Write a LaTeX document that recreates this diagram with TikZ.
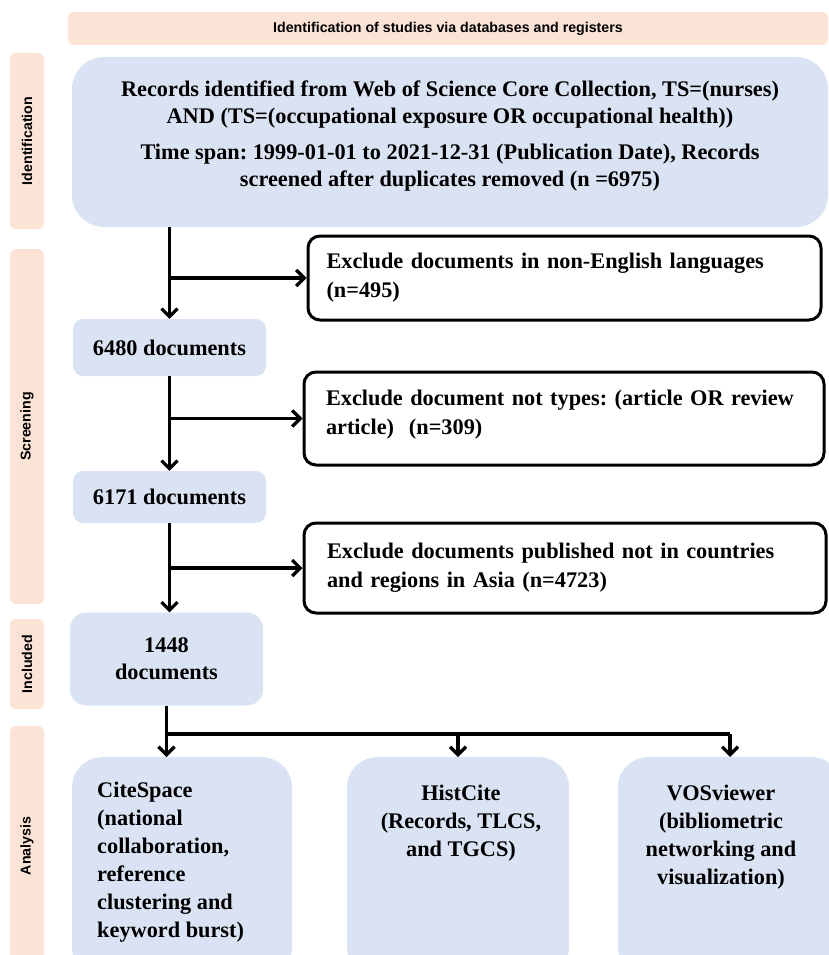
\documentclass[tikz,border=0pt]{standalone}
\usepackage{fontspec}
\setmainfont{Liberation Serif}
\setsansfont{Liberation Sans}
\usetikzlibrary{positioning,arrows.meta,calc}
\definecolor{paleblue}{RGB}{218,227,243}
\definecolor{peach}{RGB}{251,228,214}

\begin{document}
\frenchspacing
\begin{tikzpicture}[x=1pt,y=-1pt,
    sidebar/.style={fill=peach,rounded corners=6pt,rotate=90,minimum height=34pt,inner sep=0pt,
      font=\sffamily\bfseries\fontsize{14.2}{16}\selectfont},
    bluebox/.style={fill=paleblue,rounded corners=10pt,inner sep=0pt,
      font=\bfseries\fontsize{22.3}{27}\selectfont,align=center},
    excbox/.style={draw=black,line width=3pt,rounded corners=12pt,fill=white,inner sep=0pt,
      font=\bfseries\fontsize{22.3}{29}\selectfont,align=left,text width=476pt},
    toolbox/.style={fill=paleblue,rounded corners=30pt,inner sep=0pt},
    tooltext/.style={inner sep=0pt,font=\bfseries\fontsize{22.3}{28}\selectfont,anchor=north},
    flow/.style={line width=3.2pt,-{Straight Barb[length=8pt,width=16pt]}}]
        \useasboundingbox (0,0) rectangle (829,955);
        \clip (0,0) rectangle (829,955);
        % header and stage bars
        \node[fill=peach,rounded corners=6pt,minimum width=760pt,minimum height=33pt,
          font=\sffamily\bfseries\fontsize{14.2}{16}\selectfont] (head) at (448,28.5)
          {Identification of studies via databases and registers};
        \node[sidebar,minimum width=176pt] (identbar) at (27,141) {Identification};
        \node[sidebar,minimum width=355pt] (screenbar) at (27,426.5) {Screening};
        \node[sidebar,minimum width=90pt] (inclbar) at (27,664) {Included};
        \node[sidebar,minimum width=240pt] (anabar) at (27,846) {Analysis};
        % main column
        \node[bluebox,rounded corners=32pt,minimum width=756pt,minimum height=170pt,text depth=16pt] (records) at (450,142)
          {Records identified from Web of Science Core Collection, TS=(nurses)\\
           AND (TS=(occupational exposure OR occupational health))\\[9pt]
           Time span: 1999-01-01 to 2021-12-31 (Publication Date), Records\\
           screened after duplicates removed (n =6975)};
        \node[bluebox,minimum width=193pt,minimum height=57pt] (d6480) at (169.5,347.5) {6480 documents};
        \node[bluebox,minimum width=193pt,minimum height=52pt] (d6171) at (169.5,497) {6171 documents};
        \node[bluebox,rounded corners=16pt,minimum width=193pt,minimum height=93pt] (d1448) at (166.5,659)
          {1448\\documents};
        % exclusions
        \node[excbox,minimum width=513pt,minimum height=84pt] (exlang) at (564.5,278)
          {Exclude documents in non-English languages\\(n=495)};
        \node[excbox,minimum width=520pt,minimum height=93pt,text depth=42pt] (extype) at (564,418.5)
          {Exclude document not types: (article OR review\\article)~~(n=309)};
        \node[excbox,minimum width=522pt,minimum height=90pt] (exasia) at (565,568)
          {Exclude documents published not in countries\\and regions in Asia (n=4723)};
        % analysis tools
        \node[toolbox,minimum width=220pt,minimum height=220pt,anchor=north] (cite) at (182,757) {};
        \node[toolbox,minimum width=222pt,minimum height=220pt,anchor=north] (hist) at (458,757) {};
        \node[toolbox,minimum width=224pt,minimum height=220pt,anchor=north] (vos) at (730,757) {};
        \node[tooltext,anchor=north west,align=left] (citetxt) at (97,782)
          {CiteSpace\\(national\\collaboration,\\reference\\clustering and\\keyword burst)};
        \node[tooltext,align=center] (histtxt) at (461,785) {HistCite\\(Records, TLCS,\\and TGCS)};
        \node[tooltext,align=center] (vostxt) at (721,785)
          {VOSviewer\\(bibliometric\\networking and\\visualization)};
        % connectors
        \coordinate (bus) at (0,734);
        \draw[flow] (records.south -| d6480.north) -- (d6480.north);
        \draw[flow] (d6480.north |- exlang.west) -- (exlang.west);
        \draw[flow] (d6480.south) -- (d6171.north);
        \draw[flow] (d6480.south |- extype.west) -- (extype.west);
        \draw[flow] (d6171.south) -- (d6171.south |- d1448.north);
        \draw[flow] (d6171.south |- exasia.west) -- (exasia.west);
        \draw[flow] (d1448.south) -- (d1448.south |- cite.north);
        \draw[line width=3.2pt] (d1448.south |- bus) -- (vos.north |- bus);
        \draw[flow] (hist.north |- bus) -- (hist.north);
        \draw[flow] (vos.north |- bus) -- (vos.north);
\end{tikzpicture}
\end{document}
